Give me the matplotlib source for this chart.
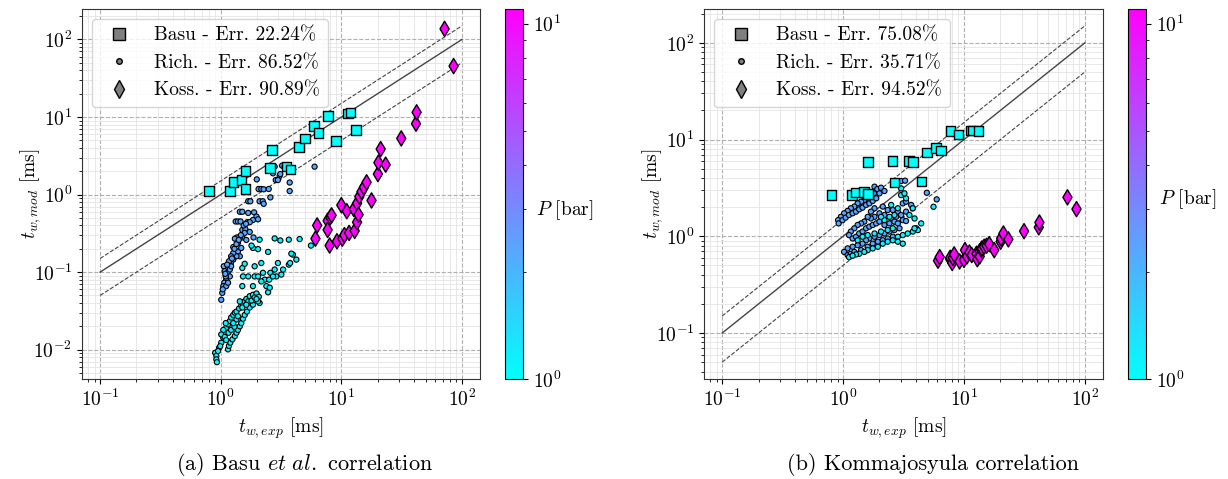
import numpy as np
import matplotlib
matplotlib.use("Agg")
import matplotlib.pyplot as plt
from matplotlib.colors import LogNorm
from matplotlib.lines import Line2D

plt.rcParams["font.family"] = "serif"
plt.rcParams["font.serif"] = ["cmr10", "DejaVu Serif"]
plt.rcParams["mathtext.fontset"] = "cm"
plt.rcParams["axes.formatter.use_mathtext"] = True
plt.rcParams["font.size"] = 14

# ---- data: experimental vs modelled waiting time [ms], pressure [bar] ----
# Basu (squares), same experimental points in both panels
x_basu = [0.80, 1.19, 1.28, 1.49, 1.60, 1.60, 2.56, 2.66, 3.50, 3.80,
          4.46, 4.97, 5.90, 6.49, 7.76, 9.04, 11.3, 11.9, 13.2]
y_basu_a = [1.12, 1.12, 1.44, 1.54, 2.0, 1.19, 2.22, 3.79, 2.29, 2.11,
            4.09, 5.30, 7.62, 6.27, 10.3, 4.94, 11.1, 11.4, 6.78]
y_basu_b = [2.66, 2.66, 2.83, 2.88, 5.86, 2.72, 6.01, 3.59, 6.01, 5.86,
            3.68, 7.38, 8.24, 7.74, 12.2, 11.3, 12.4, 12.4, 12.2]
p_basu = 1.0

# Kossolapov (diamonds)
x_koss = [6.1, 6.3, 7.7, 7.7, 8.0, 8.1, 8.3, 9.2, 10.0, 10.2, 10.6, 11.1,
          11.6, 12.7, 12.9, 13.5, 13.5, 13.9, 14.1, 14.7, 15.4, 16.2, 17.8,
          20.1, 20.3, 21.2, 23.3, 31.4, 41.6, 42.1, 71.8, 85.3]
y_koss_a = [0.27, 0.40, 0.46, 0.35, 0.22, 0.51, 0.54, 0.25, 0.73, 0.27,
            0.30, 0.61, 0.32, 0.65, 0.34, 0.77, 0.44, 0.55, 0.94, 1.09,
            1.24, 1.44, 0.84, 1.84, 2.58, 3.86, 2.43, 5.3, 8.2, 11.5,
            137.0, 45.4]
y_koss_b = [0.56, 0.61, 0.58, 0.60, 0.53, 0.60, 0.65, 0.55, 0.57, 0.72,
            0.62, 0.68, 0.64, 0.66, 0.58, 0.70, 0.62, 0.73, 0.75, 0.78,
            0.80, 0.83, 0.72, 0.88, 0.95, 1.07, 0.93, 1.13, 1.24, 1.39,
            2.53, 1.91]
p_koss = 11.0

# Richenderfer (circles), panel (a)
x_rich_a_hi = [6.0, 3.23, 3.39, 3.08, 2.86, 2.98, 3.12, 3.73, 3.73, 1.99, 2.06,
               2.17, 2.27, 2.50, 2.58, 2.10, 2.23, 2.27, 1.69, 1.76, 1.44, 1.51,
               1.69, 1.89, 1.98, 1.85, 2.04, 1.66, 1.74, 1.33, 1.39, 1.46, 1.51,
               1.60, 1.74, 1.87, 1.51, 1.44, 1.36, 1.31, 1.27, 1.32, 1.39, 1.48,
               1.44, 1.35, 1.27, 1.21, 1.15, 1.10, 1.06, 1.08, 1.14, 1.19, 1.11,
               1.07, 1.05, 1.03, 1.01, 1.11, 1.19, 1.22, 1.27, 1.22, 1.17, 1.10,
               1.15, 1.39, 1.63, 1.58, 2.80, 2.71, 1.04, 1.09, 1.13, 1.24, 1.30,
               1.35, 1.41, 1.47, 1.55, 1.62]
y_rich_a_hi = [2.29, 2.36, 2.29, 1.75, 1.54, 1.54, 1.84, 1.43, 1.11, 1.57, 1.18,
               1.18, 1.17, 1.18, 0.92, 0.82, 0.82, 0.76, 0.82, 0.82, 0.60, 0.60,
               0.58, 0.59, 0.52, 0.47, 0.48, 0.44, 0.44, 0.45, 0.45, 0.45, 0.35,
               0.36, 0.33, 0.28, 0.28, 0.28, 0.28, 0.27, 0.21, 0.19, 0.185, 0.205,
               0.16, 0.16, 0.145, 0.13, 0.119, 0.113, 0.119, 0.103, 0.098, 0.088,
               0.080, 0.073, 0.066, 0.054, 0.044, 0.066, 0.108, 0.119, 0.176,
               0.16, 0.138, 0.088, 0.073, 0.24, 0.26, 0.32, 2.29, 1.88, 0.060,
               0.095, 0.125, 0.15, 0.20, 0.23, 0.26, 0.30, 0.40, 0.42]
x_rich_a_lo = [0.90, 0.92, 0.92, 0.93, 0.97, 1.01, 1.05, 1.08, 1.11, 1.15, 1.19,
               1.22, 1.27, 1.31, 1.35, 1.42, 1.48, 1.53, 1.58, 1.63, 1.74, 1.85,
               1.98, 2.07, 2.10, 1.15, 1.17, 1.20, 1.25, 1.31, 1.35, 1.39, 1.44,
               1.48, 1.53, 1.58, 1.65, 1.74, 1.85, 1.69, 1.80, 1.91, 1.05, 1.10,
               1.01, 1.08, 1.11, 1.16, 1.22, 1.30, 1.44, 1.51, 1.63, 2.04, 1.98,
               0.95, 0.99, 1.35, 1.39, 1.27,
               1.51, 1.53, 1.69, 1.85, 1.91, 2.04, 2.17, 2.24, 2.32, 2.39, 2.47,
               2.55, 2.52, 2.58, 2.80, 2.89, 3.18, 3.29, 3.67, 3.76, 3.97, 4.24,
               3.85, 1.85, 2.04, 2.47, 1.51, 1.58, 2.80, 3.12, 3.67, 4.51, 5.6,
               2.10, 1.80, 2.17, 1.91, 2.71, 2.98]
y_rich_a_lo = [0.0091, 0.0083, 0.0075, 0.0069, 0.0106, 0.0123, 0.0143, 0.0165,
               0.0192, 0.0212, 0.0234, 0.026, 0.028, 0.030, 0.031, 0.034, 0.037,
               0.039, 0.042, 0.045, 0.049, 0.051, 0.053, 0.048, 0.040, 0.0101,
               0.0112, 0.0123, 0.0136, 0.0150, 0.0165, 0.018, 0.020, 0.022, 0.025,
               0.028, 0.031, 0.035, 0.038, 0.042, 0.043, 0.047, 0.018, 0.022,
               0.0157, 0.0146, 0.0133, 0.0165, 0.018, 0.0197, 0.042, 0.035, 0.038,
               0.042, 0.045, 0.0096, 0.0111, 0.0245, 0.027, 0.022,
               0.066, 0.088, 0.088, 0.066, 0.088, 0.088, 0.131, 0.098, 0.080,
               0.066, 0.055, 0.063, 0.080, 0.098, 0.108, 0.088, 0.093, 0.108,
               0.125, 0.131, 0.168, 0.145, 0.173, 0.205, 0.198, 0.182, 0.113,
               0.128, 0.272, 0.256, 0.262, 0.267, 0.22, 0.262, 0.22, 0.076,
               0.119, 0.088, 0.131]

# Richenderfer (circles), panel (b)
x_rich_b_hi = [1.82, 1.92, 2.06, 2.20, 2.00, 1.80, 1.70, 1.60, 1.50, 1.41, 1.32,
               1.24, 1.16, 1.09, 1.02, 0.96, 0.91, 0.92, 0.99, 1.05, 1.12, 1.20,
               1.28, 1.36, 1.45, 1.55, 1.65, 1.76, 1.88, 3.02, 3.26, 4.93, 5.95,
               2.13, 2.34, 2.58, 2.84, 3.12, 3.32, 3.66, 3.78, 3.32, 3.02, 2.75,
               2.50, 2.20, 2.00, 1.82, 1.70, 1.60, 1.50, 1.41, 1.32, 1.24, 1.16,
               1.12, 1.20, 1.28, 1.36, 1.45, 1.55, 1.65, 1.76, 1.88, 2.00, 2.20,
               2.42, 2.66, 2.84, 3.12, 3.32, 2.93, 2.66, 2.42, 2.20, 2.00, 1.82,
               1.65, 1.55, 1.45, 1.32, 1.20, 1.09, 1.02, 1.09, 1.16, 1.24, 1.41,
               1.60, 1.76, 1.94, 2.13, 2.34, 2.58, 1.82, 1.70]
y_rich_b_hi = [3.26, 3.08, 3.18, 2.94, 2.78, 2.78, 2.67, 2.47, 2.37, 2.28, 2.19,
               2.03, 1.95, 1.83, 1.73, 1.59, 1.47, 1.36, 1.47, 1.56, 1.66, 1.73,
               1.80, 1.90, 1.98, 2.11, 2.19, 2.32, 2.47, 3.73, 3.76, 2.82, 2.41,
               2.03, 1.87, 1.87, 1.80, 2.19, 2.28, 2.11, 1.95, 1.80, 1.66, 1.59,
               1.53, 1.66, 1.73, 1.59, 1.53, 1.59, 1.42, 1.36, 1.31, 1.21, 1.12,
               1.03, 0.95, 0.99, 1.07, 1.12, 1.21, 1.26, 1.31, 1.36, 1.42, 1.31,
               1.36, 1.42, 1.36, 1.47, 1.44, 1.21, 1.16, 1.12, 1.07, 1.03, 0.99,
               0.95, 0.91, 0.84, 0.81, 0.78, 0.75, 0.69, 0.64, 0.66, 0.69, 0.72,
               0.78, 0.84, 0.88, 0.91, 0.95, 0.99, 1.95, 1.80]
x_rich_b_lo = [3.02, 3.32, 3.54, 3.90, 4.03, 4.43, 4.16, 3.78, 3.43, 3.12, 2.84,
               2.58, 2.34, 2.13, 1.94, 1.76, 1.60, 1.50, 1.36, 1.28, 2.58, 2.34,
               2.06, 1.82, 1.60, 1.45, 1.32, 2.20, 2.42, 2.66, 2.06, 2.84, 2.50,
               3.02, 3.22, 5.6, 2.84, 3.12, 1.12, 1.20, 3.77, 3.9]
y_rich_b_lo = [3.13, 2.47, 1.66, 1.53, 1.21, 1.36, 1.16, 1.12, 1.07, 1.03, 0.99,
               0.91, 0.88, 0.84, 0.78, 0.75, 0.72, 0.69, 0.66, 0.65, 1.21, 1.16,
               1.12, 1.07, 1.03, 0.99, 0.91, 1.47, 1.59, 1.66, 1.59, 1.95, 2.11,
               2.67, 2.78, 2.02, 0.88, 0.84, 0.61, 0.63, 1.95, 1.21]
p_rich_hi = 2.3
p_rich_lo = 1.1

panels = [
    dict(y_basu=y_basu_a, y_koss=y_koss_a,
         rich=[(x_rich_a_hi, y_rich_a_hi, p_rich_hi), (x_rich_a_lo, y_rich_a_lo, p_rich_lo)],
         labels=["Basu - Err. 22.24%", "Rich. - Err. 86.52%", "Koss. - Err. 90.89%"],
         caption=r"(a) Basu $\mathit{et\ al.}$ correlation"),
    dict(y_basu=y_basu_b, y_koss=y_koss_b,
         rich=[(x_rich_b_hi, y_rich_b_hi, p_rich_hi), (x_rich_b_lo, y_rich_b_lo, p_rich_lo)],
         labels=["Basu - Err. 75.08%", "Rich. - Err. 35.71%", "Koss. - Err. 94.52%"],
         caption="(b) Kommajosyula correlation"),
]

ax_rects = [[0.0668, 0.2088, 0.3241, 0.7724], [0.5733, 0.2088, 0.3249, 0.7724]]
cax_rects = [[0.4112, 0.2088, 0.0147, 0.7724], [0.9186, 0.2088, 0.0147, 0.7724]]
ylabel_x = [-0.097, -0.097]
cb_label_y = [0.457, 0.485]
caption_x = [0.248, 0.760]

norm = LogNorm(vmin=1.0, vmax=11.0)
cmap = "cool"
diag = np.array([0.1, 100.0])

fig = plt.figure(figsize=(12.28, 4.79), dpi=100)

for i, pan in enumerate(panels):
    ax = fig.add_axes(ax_rects[i])
    ax.set_xscale("log")
    ax.set_yscale("log")
    ax.grid(True, which="major", ls="--", color="#b0b0b0", lw=0.8)
    ax.grid(True, which="minor", ls="-", color="#e4e4e4", lw=0.6)
    ax.set_axisbelow(True)

    ax.plot(diag, diag, color="#444444", lw=1.0, zorder=2)
    ax.plot(diag, 1.5 * diag, color="#444444", lw=0.8, ls="--", zorder=2)
    ax.plot(diag, 0.5 * diag, color="#444444", lw=0.8, ls="--", zorder=2)

    for xr, yr, pr in pan["rich"]:
        ax.scatter(xr, yr, c=np.full(len(xr), pr), cmap=cmap, norm=norm,
                   marker="o", s=14, edgecolors="k", linewidths=0.8, zorder=3)
    ax.scatter(x_basu, pan["y_basu"], c=np.full(len(x_basu), p_basu), cmap=cmap,
               norm=norm, marker="s", s=48, edgecolors="k", linewidths=1.0, zorder=4)
    sc = ax.scatter(x_koss, pan["y_koss"], c=np.full(len(x_koss), p_koss), cmap=cmap,
                    norm=norm, marker="d", s=60, edgecolors="k", linewidths=1.0, zorder=4)

    for sp in ax.spines.values():
        sp.set_color("#333333")
    ax.set_xlabel(r"$t_{w,exp}$ [ms]")
    ax.set_ylabel(r"$t_{w,mod}$ [ms]")
    ax.yaxis.set_label_coords(ylabel_x[i], 0.5)

    handles = [
        Line2D([], [], ls="none", marker="s", ms=8, mfc="#7f7f7f", mec="k"),
        Line2D([], [], ls="none", marker="o", ms=4, mfc="#7f7f7f", mec="k"),
        Line2D([], [], ls="none", marker="d", ms=9, mfc="#7f7f7f", mec="k"),
    ]
    ax.legend(handles, pan["labels"], loc="upper left", fontsize=14)

    cax = fig.add_axes(cax_rects[i])
    cb = fig.colorbar(sc, cax=cax)
    cb.ax.set_ylabel(r"$P$ [bar]", rotation=0, ha="left", va="center")
    cb.ax.yaxis.set_label_coords(1.7, cb_label_y[i])

    fig.text(caption_x[i], 0.03, pan["caption"], ha="center", va="center", fontsize=16)

fig.savefig("out.png", dpi=100)
